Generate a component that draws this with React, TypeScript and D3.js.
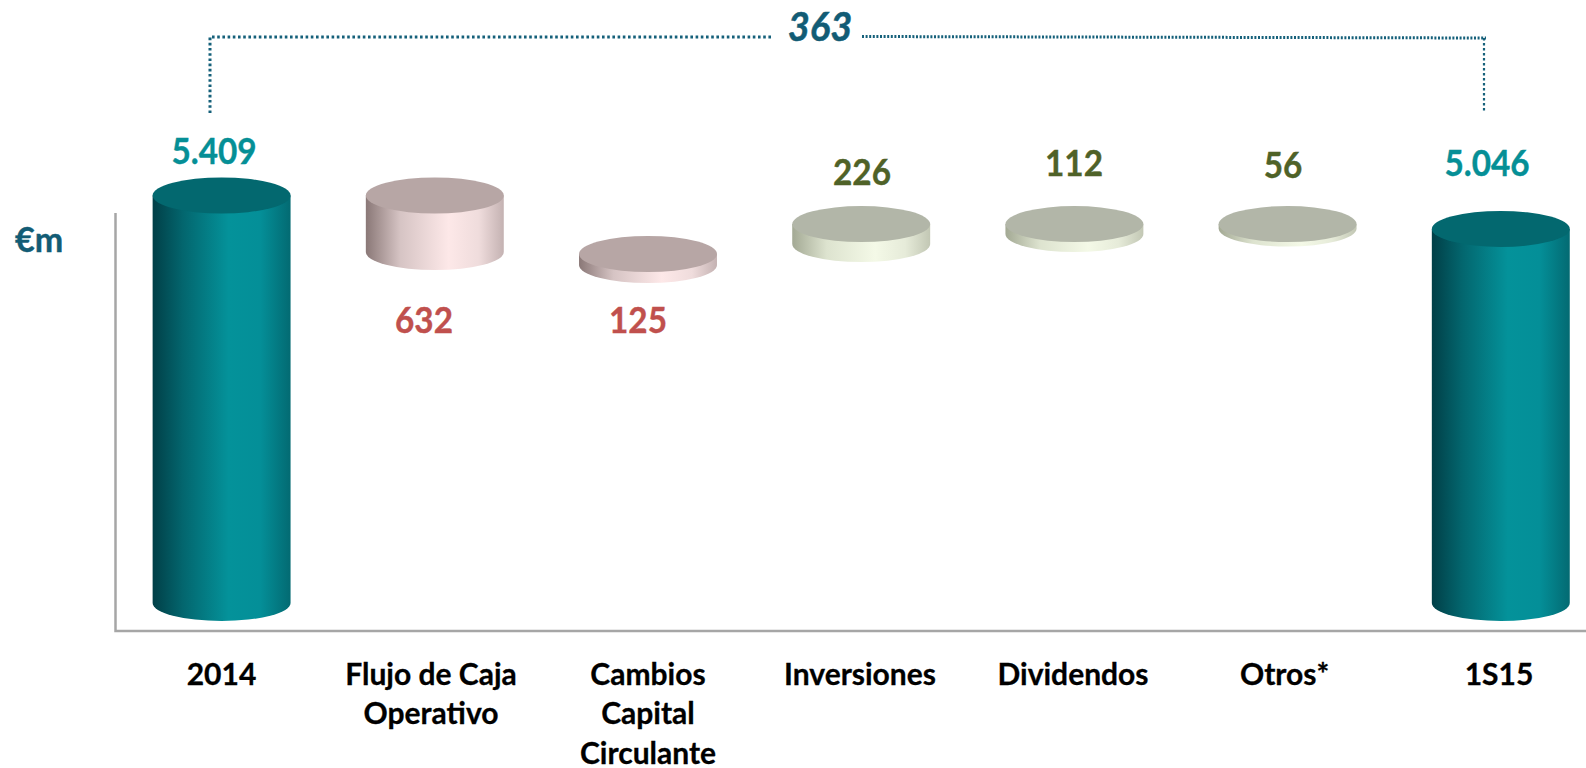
import React from "react";
import * as d3 from "d3";

const categories = ["2014", "Flujo de Caja Operativo", "Cambios Capital Circulante", "Inversiones", "Dividendos", "Otros*", "1S15"];
const categoryLines = [["2014"], ["Flujo de Caja", "Operativo"], ["Cambios", "Capital", "Circulante"], ["Inversiones"], ["Dividendos"], ["Otros*"], ["1S15"]];
const valueLabels = ["5.409", "632", "125", "226", "112", "56", "5.046"];
const kinds = ["total", "down", "down", "up", "up", "up", "total"];
// Cylinder ends as drawn, in €m (the source axis is truncated and the floating cylinders do not chain exactly)
const topLevels = [5409, 5409, 4773, 5099, 5099, 5099, 5046];
const baseLevels = [979, 4794, 4653, 4881, 4990, 5050, 979];
const bridgeValue = "363";
const unitLabel = "€m";

const W = 1586;
const H = 768;
const RY = 18;
const x = d3.scaleBand<string>().domain(categories).range([115, 1607.4]).paddingInner(0.353).paddingOuter(0.1765);
const y = d3.scaleLinear().domain([979, 5409]).range([603, 195.5]);

const palette: Record<string, { top: string; text: string; stops: [number, string][] }> = {
  total: { top: "#03686f", text: "#058f96", stops: [[0, "#013f47"], [0.22, "#03666e"], [0.55, "#04929a"], [0.78, "#048f98"], [1, "#036a72"]] },
  down: { top: "#b7a6a5", text: "#c0504d", stops: [[0, "#8a7877"], [0.25, "#d6c4c4"], [0.6, "#fde8e8"], [0.82, "#efdcdc"], [1, "#c4b2b2"]] },
  up: { top: "#b2b6a8", text: "#4f6228", stops: [[0, "#a3a994"], [0.25, "#dde3cf"], [0.6, "#f4f9e7"], [0.82, "#e6ebd9"], [1, "#c2c7b4"]] },
};
const labelPos: [number, number][] = [[214, 164], [424, 333], [638, 333], [862, 185], [1074, 176], [1283, 178], [1487, 176]];
const catX = [221.5, 431, 648, 860, 1073, 1284.6, 1499];
const catY = [685, 724, 764];
const font = "Lato, Carlito, sans-serif";

export default function App() {
  const rx = x.bandwidth() / 2;
  const axisY = 631;
  return (
    <svg width={W} height={H} viewBox={`0 0 ${W} ${H}`} style={{ position: "absolute", left: 0, top: 0, display: "block", background: "#fff" }} fontFamily={font}>
      <defs>
        {Object.entries(palette).map(([k, p]) => (
          <linearGradient key={k} id={`g-${k}`} x1="0" x2="1" y1="0" y2="0">
            {p.stops.map(([o, c]) => <stop key={o} offset={o} stopColor={c} />)}
          </linearGradient>
        ))}
      </defs>
      <path d={`M115.5,213V${axisY}H1586`} fill="none" stroke="#a6a6a6" strokeWidth={2.5} />
      <g stroke="#15607a" fill="none">
        <path d="M210,113V37H772" strokeWidth={3} strokeDasharray="2.6 2.6" />
        <path d="M862,36.5L1486,38" strokeWidth={3} strokeDasharray="2 1.6" />
        <path d="M1484,38V113" strokeWidth={2.2} strokeDasharray="2.5 2.5" />
      </g>
      <text transform="translate(820,41) scale(0.95,1)" textAnchor="middle" fontSize={40} fontWeight={700} fontStyle="italic" fill="#125c75" stroke="#125c75" strokeWidth={0.5}>{bridgeValue}</text>
      <text x={15} y={252} fontSize={34} fontWeight={700} fill="#125c75" stroke="#125c75" strokeWidth={0.4}>{unitLabel}</text>
      {categories.map((c, i) => {
        const left = x(c)!;
        const right = left + x.bandwidth();
        const yt = y(topLevels[i]);
        const yb = y(baseLevels[i]);
        const k = kinds[i];
        return (
          <g key={c}>
            <path d={`M${left},${yt}V${yb}A${rx},${RY} 0 0 0 ${right},${yb}V${yt}Z`} fill={`url(#g-${k})`} />
            <ellipse cx={left + rx} cy={yt} rx={rx} ry={RY} fill={palette[k].top} />
            <text transform={`translate(${labelPos[i][0]},${labelPos[i][1]}) scale(0.9,1)`} textAnchor="middle" fontSize={37} fontWeight={700} fill={palette[k].text} stroke={palette[k].text} strokeWidth={0.4}>{valueLabels[i]}</text>
            <text textAnchor="middle" fontSize={30} fontWeight={700} fill="#000" stroke="#000" strokeWidth={0.3}>
              {categoryLines[i].map((l, j) => <tspan key={l} x={catX[i]} y={catY[j]}>{l}</tspan>)}
            </text>
          </g>
        );
      })}
    </svg>
  );
}
